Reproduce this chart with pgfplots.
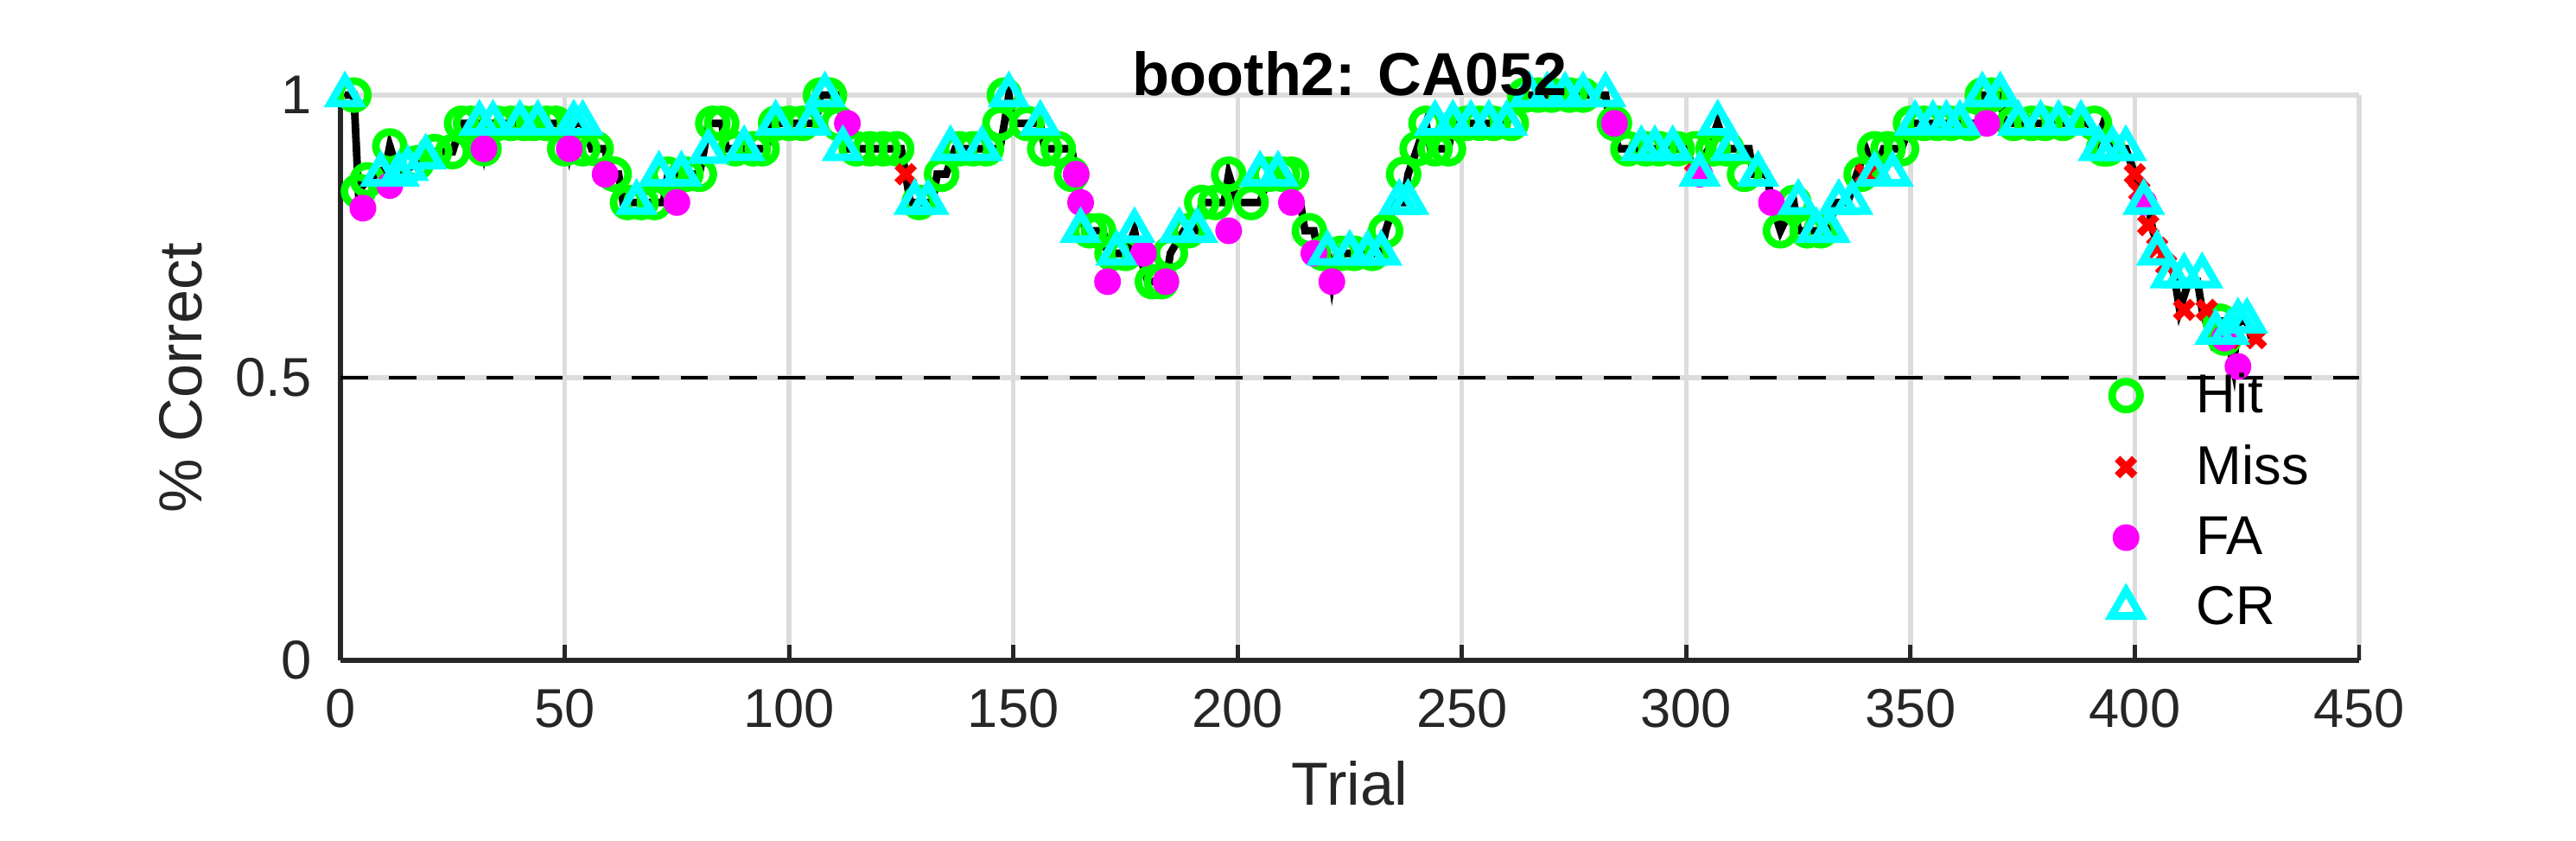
\documentclass[border=0pt]{standalone}
\usepackage{pgfplots}
\pgfplotsset{compat=1.18}
\usepackage{fontspec}
\setmainfont{Liberation Sans}
\definecolor{gridc}{RGB}{220,220,220}
\definecolor{hitc}{RGB}{0,255,0}
\definecolor{crc}{RGB}{0,255,255}
\definecolor{fac}{RGB}{255,0,255}
\definecolor{missc}{RGB}{255,0,0}
\begin{document}
\begin{tikzpicture}
\begin{axis}[
  at={(0,0)}, anchor=south west,
  scale only axis, width=23.36cm, height=6.54cm,
  xmin=0, xmax=450, ymin=0, ymax=1,
  xtick={0,50,...,450}, ytick={0,0.5,1},
  yticklabels={0,0.5,1},
  grid=major, grid style={gridc, line width=1.5pt},
  axis x line*=bottom, axis y line*=left,
  axis line style={line width=1.6pt, black!85},
  tick style={line width=1.4pt, black!85}, tick align=inside,
  major tick length=5pt,
  /pgf/number format/assume math mode=true,
  ticklabel style={font=\fontsize{18}{21}\selectfont, text=black!85},
  xticklabel style={yshift=-6pt}, yticklabel style={xshift=-6pt},
  xlabel={Trial}, ylabel={\% Correct},
  xlabel style={yshift=-4pt}, ylabel style={yshift=4pt},
  label style={font=\fontsize{20}{24}\selectfont, text=black!85},
  title={\textbf{booth2: CA052}}, title style={font=\fontsize{20}{24}\selectfont, yshift=-10pt},
  clip=false,
  legend style={draw=none, fill=none, at={(0.865,0.53)}, anchor=north west, font=\fontsize{18}{21}\selectfont, row sep=5pt,
    /tikz/every even column/.append style={column sep=0pt}},
  legend cell align=left,
  legend image code/.code={\draw[#1] (0cm,0cm) (0.4cm,0cm) node{} plot coordinates {(0.3cm,0cm)} (1.0cm,0cm);},
]
\addplot[black, line width=2.5pt, forget plot] coordinates {
(1,1)(3,1)(4,0.83)(6,0.85)(8,0.86)(10,0.87)(11,0.91)(13,0.86)(15,0.87)(17,0.88)(19,0.89)(21,0.9)(25,0.9)(27,0.95)(31,0.95)(32,0.905)(33,0.95)(50,0.95)(51,0.905)(52,0.95)(54,0.95)(56,0.905)(59,0.905)(60,0.86)(62,0.86)(63,0.81)(72,0.81)(73,0.86)(80,0.86)(81,0.9)(82,0.95)(85,0.95)(86,0.905)(95,0.905)(96,0.95)(106,0.95)(107,1)(111,1)(112,0.95)(113,0.905)(125,0.905)(126,0.86)(127,0.81)(132,0.81)(133,0.86)(135,0.86)(137,0.905)(147,0.905)(148,0.95)(149,1)(150,0.95)(156,0.95)(157,0.905)(163,0.905)(164,0.86)(165,0.81)(166,0.76)(170,0.76)(171,0.72)(175,0.72)(177,0.76)(178,0.72)(180,0.67)(184,0.67)(185,0.72)(188,0.76)(191,0.76)(192,0.81)(197,0.81)(198,0.86)(200,0.81)(205,0.81)(207,0.86)(211,0.86)(212,0.81)(214,0.81)(215,0.76)(217,0.76)(218,0.72)(220,0.72)(221,0.67)(222,0.72)(232,0.72)(233,0.76)(235,0.81)(237,0.81)(238,0.86)(240,0.905)(242,0.95)(243,0.905)(247,0.905)(248,0.95)(260,0.95)(262,1)(282,1)(283,0.95)(285,0.905)(300,0.905)(302,0.86)(305,0.905)(307,0.95)(309,0.905)(314,0.905)(315,0.86)(318,0.86)(319,0.81)(321,0.76)(324,0.81)(325,0.76)(332,0.76)(333,0.81)(336,0.81)(338,0.86)(340,0.905)(342,0.86)(344,0.905)(348,0.905)(350,0.95)(365,0.95)(366,1)(370,1)(371,0.95)(390,0.95)(391,0.905)(393,0.95)(395,0.905)(398,0.905)(400,0.86)(402,0.81)(403,0.81)(404,0.76)(406,0.72)(408,0.71)(409,0.67)(410,0.62)(412,0.67)(414,0.67)(415,0.62)(417,0.57)(418,0.6)(420,0.6)(422,0.52)(423,0.6)(425,0.6)(426,0.57)};
\addplot[only marks, mark=o, mark size=4.6pt, color=hitc, line width=2.5pt] coordinates {
(3,1)(4,0.83)(6,0.85)(11,0.91)(17,0.88)(21,0.9)(25,0.9)(27,0.95)(29,0.95)(32,0.905)(35,0.95)(38,0.95)(41,0.95)(43,0.95)(46,0.95)(48,0.95)(50,0.905)(54,0.905)(57,0.905)(61,0.86)(64,0.81)(67,0.81)(70,0.81)(73,0.86)(77,0.86)(80,0.86)(83,0.95)(85,0.95)(88,0.905)(92,0.905)(94,0.905)(97,0.95)(100,0.95)(103,0.95)(107,1)(109,1)(111,0.95)(115,0.905)(118,0.905)(121,0.905)(124,0.905)(129,0.81)(134,0.86)(138,0.905)(141,0.905)(144,0.905)(147,0.95)(148,1)(153,0.95)(157,0.905)(160,0.905)(163,0.86)(167,0.76)(169,0.76)(172,0.72)(175,0.72)(181,0.67)(183,0.67)(185,0.72)(189,0.76)(192,0.81)(195,0.81)(198,0.86)(203,0.81)(207,0.86)(210,0.86)(212,0.86)(216,0.76)(219,0.72)(223,0.72)(226,0.72)(230,0.72)(233,0.76)(237,0.86)(240,0.905)(242,0.95)(244,0.905)(247,0.905)(251,0.95)(254,0.95)(257,0.95)(261,0.95)(264,1)(267,1)(270,1)(274,1)(277,1)(284,0.95)(287,0.905)(291,0.905)(294,0.905)(298,0.905)(302,0.905)(306,0.905)(309,0.905)(313,0.86)(321,0.76)(324,0.81)(327,0.76)(330,0.76)(339,0.86)(342,0.905)(345,0.905)(348,0.905)(350,0.95)(353,0.95)(356,0.95)(359,0.95)(363,0.95)(366,1)(368,1)(373,0.95)(377,0.95)(380,0.95)(384,0.95)(391,0.95)(393,0.905)(394,0.905)(419,0.6)(420,0.57)};
\addlegendentry{Hit}
\addplot[only marks, mark=x, mark size=4pt, color=missc, line width=2.5pt] coordinates {
(126,0.86)(302,0.86)(340,0.86)(400,0.86)(401,0.83)(403,0.77)(405,0.73)(407,0.7)(411,0.62)(416,0.62)(421,0.57)(427,0.57)};
\addlegendentry{Miss}
\addplot[only marks, mark=*, mark size=4.2pt, color=fac] coordinates {
(5,0.8)(11,0.84)(32,0.905)(51,0.905)(59,0.86)(75,0.81)(113,0.95)(164,0.86)(165,0.81)(171,0.67)(179,0.72)(184,0.67)(198,0.76)(212,0.81)(217,0.72)(221,0.67)(284,0.95)(303,0.86)(319,0.81)(367,0.95)(402,0.81)(420,0.57)(423,0.52)};
\addlegendentry{FA}
\addplot[only marks, mark=triangle, mark size=5.6pt, color=crc, line width=2.5pt] coordinates {
(1,1)(9,0.86)(13,0.86)(15,0.87)(19,0.89)(31,0.95)(34,0.95)(40,0.95)(44,0.95)(52,0.95)(54,0.95)(66,0.81)(71,0.86)(76,0.86)(82,0.9)(90,0.905)(97,0.95)(105,0.95)(108,1)(112,0.905)(128,0.81)(131,0.81)(136,0.905)(143,0.905)(149,1)(156,0.95)(165,0.76)(173,0.72)(177,0.76)(187,0.76)(191,0.76)(205,0.86)(209,0.86)(220,0.72)(225,0.72)(229,0.72)(232,0.72)(236,0.81)(238,0.81)(244,0.95)(248,0.95)(252,0.95)(256,0.95)(260,0.95)(265,1)(269,1)(273,1)(277,1)(282,1)(290,0.905)(293,0.905)(297,0.905)(303,0.86)(307,0.95)(310,0.905)(316,0.86)(325,0.81)(329,0.76)(332,0.76)(334,0.81)(337,0.81)(342,0.86)(346,0.86)(351,0.95)(355,0.95)(358,0.95)(361,0.95)(366,1)(370,1)(374,0.95)(379,0.95)(383,0.95)(388,0.95)(392,0.905)(395,0.905)(398,0.905)(402,0.81)(405,0.72)(408,0.68)(411,0.68)(415,0.68)(418,0.58)(421,0.58)(423,0.6)(425,0.6)};
\addlegendentry{CR}
\addplot[black, line width=1.3pt, dash pattern=on 9pt off 7pt, forget plot] coordinates {(0,0.5)(450,0.5)};
\end{axis}
\useasboundingbox (-3.94cm,-2.08cm) rectangle (25.87cm,7.64cm);
\end{tikzpicture}
\end{document}
